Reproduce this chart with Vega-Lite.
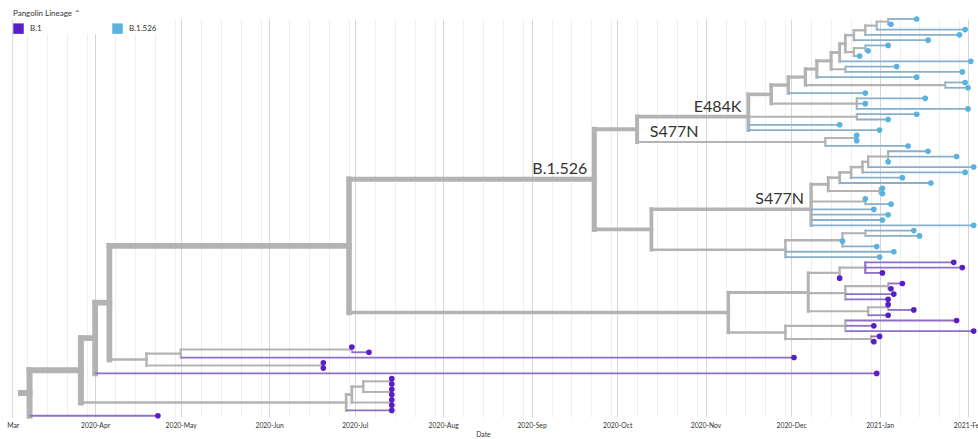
{
  "$schema": "https://vega.github.io/schema/vega-lite/v6.json",
  "width": 978,
  "height": 398,
  "autosize": {"type": "none"},
  "padding": {"left": 0, "right": 0, "top": 19, "bottom": 22},
  "background": "white",
  "config": {"view": {"stroke": null}, "font": "Lato"},
  "datasets": {
    "edges": [
      {"from":"2020-03-06","to":"2020-03-09","y":71.7,"tips":76},
      {"from":"2020-03-09","to":"2020-03-27","y":67.41,"tips":75},
      {"from":"2020-03-27","to":"2020-04-01","y":61.32,"tips":68},
      {"from":"2020-03-27","to":"2020-06-28","y":73.5,"tips":7},
      {"from":"2020-04-01","to":"2020-04-06","y":54.63,"tips":67},
      {"from":"2020-04-06","to":"2020-06-29","y":43.89,"tips":62},
      {"from":"2020-04-06","to":"2020-04-19","y":65.38,"tips":5},
      {"from":"2020-04-19","to":"2020-05-01","y":64.25,"tips":3},
      {"from":"2020-04-19","to":"2020-06-20","y":66.5,"tips":2},
      {"from":"2020-05-01","to":"2020-06-30","y":63.5,"tips":2},
      {"from":"2020-06-28","to":"2020-06-30","y":72,"tips":6},
      {"from":"2020-06-30","to":"2020-07-04","y":70.5,"tips":4},
      {"from":"2020-06-30","to":"2020-07-14","y":73.5,"tips":2},
      {"from":"2020-07-04","to":"2020-07-14","y":69.5,"tips":2},
      {"from":"2020-07-04","to":"2020-07-14","y":71.5,"tips":2},
      {"from":"2020-06-29","to":"2020-09-23","y":31.31,"tips":46},
      {"from":"2020-06-29","to":"2020-11-09","y":56.47,"tips":16},
      {"from":"2020-09-23","to":"2020-10-08","y":21.84,"tips":25},
      {"from":"2020-09-23","to":"2020-10-13","y":40.79,"tips":21},
      {"from":"2020-10-08","to":"2020-11-16","y":19.44,"tips":22},
      {"from":"2020-10-08","to":"2020-12-13","y":24.25,"tips":3},
      {"from":"2020-11-16","to":"2020-11-24","y":15.25,"tips":18},
      {"from":"2020-11-16","to":"2020-12-24","y":19.5,"tips":2},
      {"from":"2020-11-24","to":"2020-11-30","y":13.49,"tips":15},
      {"from":"2020-11-24","to":"2020-12-24","y":17,"tips":3},
      {"from":"2020-11-30","to":"2020-12-06","y":11.98,"tips":14},
      {"from":"2020-12-06","to":"2020-12-10","y":10.46,"tips":12},
      {"from":"2020-12-06","to":"2021-01-24","y":13.5,"tips":2},
      {"from":"2020-12-10","to":"2020-12-15","y":8.91,"tips":11},
      {"from":"2020-12-15","to":"2020-12-18","y":7.33,"tips":9},
      {"from":"2020-12-15","to":"2020-12-20","y":10.5,"tips":2},
      {"from":"2020-12-18","to":"2020-12-20","y":5.66,"tips":8},
      {"from":"2020-12-20","to":"2020-12-23","y":4.06,"tips":5},
      {"from":"2020-12-20","to":"2020-12-23","y":7.25,"tips":3},
      {"from":"2020-12-23","to":"2020-12-27","y":3.13,"tips":4},
      {"from":"2020-12-27","to":"2020-12-31","y":2.25,"tips":3},
      {"from":"2020-12-31","to":"2021-01-04","y":1.5,"tips":2},
      {"from":"2020-12-23","to":"2020-12-27","y":6.5,"tips":2},
      {"from":"2020-12-13","to":"2020-12-24","y":23.5,"tips":2},
      {"from":"2020-10-13","to":"2020-12-08","y":36.96,"tips":15},
      {"from":"2020-10-13","to":"2020-11-29","y":44.61,"tips":6},
      {"from":"2020-12-08","to":"2020-12-14","y":32.25,"tips":9},
      {"from":"2020-12-08","to":"2020-12-27","y":35.5,"tips":2},
      {"from":"2020-12-14","to":"2020-12-18","y":31,"tips":7},
      {"from":"2020-12-14","to":"2021-01-01","y":33.5,"tips":2},
      {"from":"2020-12-18","to":"2020-12-22","y":30,"tips":6},
      {"from":"2020-12-22","to":"2020-12-26","y":29,"tips":5},
      {"from":"2020-12-26","to":"2020-12-28","y":28,"tips":4},
      {"from":"2020-12-28","to":"2021-01-04","y":27,"tips":3},
      {"from":"2020-11-29","to":"2020-12-19","y":42.83,"tips":4},
      {"from":"2020-12-19","to":"2020-12-27","y":41.5,"tips":2},
      {"from":"2020-11-09","to":"2020-12-07","y":52.69,"tips":11},
      {"from":"2020-11-09","to":"2020-11-29","y":60.25,"tips":5},
      {"from":"2020-12-07","to":"2020-12-18","y":49,"tips":4},
      {"from":"2020-12-07","to":"2020-12-20","y":52.83,"tips":4},
      {"from":"2020-12-07","to":"2020-12-28","y":56.25,"tips":3},
      {"from":"2020-12-18","to":"2020-12-27","y":48,"tips":3},
      {"from":"2020-12-20","to":"2021-01-04","y":51.5,"tips":2},
      {"from":"2020-12-28","to":"2021-01-04","y":55.5,"tips":2},
      {"from":"2020-11-29","to":"2020-12-20","y":59,"tips":3},
      {"from":"2020-11-29","to":"2020-12-29","y":61.5,"tips":2}
    ],
    "joins": [
      {"date":"2020-03-09","y0":67.41,"y1":76,"tips":76,"lineage":"int"},
      {"date":"2020-03-27","y0":61.32,"y1":73.5,"tips":75,"lineage":"int"},
      {"date":"2020-04-01","y0":54.63,"y1":68,"tips":68,"lineage":"int"},
      {"date":"2020-04-06","y0":43.89,"y1":65.38,"tips":67,"lineage":"int"},
      {"date":"2020-04-19","y0":64.25,"y1":66.5,"tips":5,"lineage":"int"},
      {"date":"2020-05-01","y0":63.5,"y1":65,"tips":3,"lineage":"int"},
      {"date":"2020-06-30","y0":63,"y1":64,"tips":2,"lineage":"int"},
      {"date":"2020-06-20","y0":66,"y1":67,"tips":2,"lineage":"int"},
      {"date":"2020-06-29","y0":31.31,"y1":56.47,"tips":62,"lineage":"int"},
      {"date":"2020-06-28","y0":72,"y1":75,"tips":7,"lineage":"int"},
      {"date":"2020-06-30","y0":70.5,"y1":73.5,"tips":6,"lineage":"int"},
      {"date":"2020-07-04","y0":69.5,"y1":71.5,"tips":4,"lineage":"int"},
      {"date":"2020-07-14","y0":69,"y1":70,"tips":2,"lineage":"int"},
      {"date":"2020-07-14","y0":71,"y1":72,"tips":2,"lineage":"int"},
      {"date":"2020-07-14","y0":73,"y1":74,"tips":2,"lineage":"int"},
      {"date":"2020-09-23","y0":21.84,"y1":40.79,"tips":46,"lineage":"int"},
      {"date":"2020-10-08","y0":19.44,"y1":24.25,"tips":25,"lineage":"int"},
      {"date":"2020-10-13","y0":36.96,"y1":44.61,"tips":21,"lineage":"int"},
      {"date":"2020-11-16","y0":15.25,"y1":22,"tips":22,"lineage":"int"},
      {"date":"2020-11-24","y0":13.49,"y1":17,"tips":18,"lineage":"int"},
      {"date":"2020-11-30","y0":11.98,"y1":15,"tips":15,"lineage":"int"},
      {"date":"2020-12-06","y0":10.46,"y1":13.5,"tips":14,"lineage":"int"},
      {"date":"2021-01-24","y0":13,"y1":14,"tips":2,"lineage":"int"},
      {"date":"2020-12-10","y0":8.91,"y1":12,"tips":12,"lineage":"int"},
      {"date":"2020-12-15","y0":7.33,"y1":10.5,"tips":11,"lineage":"int"},
      {"date":"2020-12-20","y0":10,"y1":11,"tips":2,"lineage":"int"},
      {"date":"2020-12-18","y0":5.66,"y1":9,"tips":9,"lineage":"int"},
      {"date":"2020-12-20","y0":4.06,"y1":7.25,"tips":8,"lineage":"int"},
      {"date":"2020-12-23","y0":6.5,"y1":8,"tips":3,"lineage":"int"},
      {"date":"2020-12-27","y0":6,"y1":7,"tips":2,"lineage":"int"},
      {"date":"2020-12-23","y0":3.13,"y1":5,"tips":5,"lineage":"int"},
      {"date":"2020-12-27","y0":2.25,"y1":4,"tips":4,"lineage":"int"},
      {"date":"2020-12-31","y0":1.5,"y1":3,"tips":3,"lineage":"int"},
      {"date":"2021-01-04","y0":1,"y1":2,"tips":2,"lineage":"int"},
      {"date":"2020-12-24","y0":16,"y1":18,"tips":3,"lineage":"int"},
      {"date":"2020-12-24","y0":19,"y1":20,"tips":2,"lineage":"int"},
      {"date":"2020-12-13","y0":23.5,"y1":25,"tips":3,"lineage":"int"},
      {"date":"2020-12-24","y0":23,"y1":24,"tips":2,"lineage":"int"},
      {"date":"2020-12-08","y0":32.25,"y1":40,"tips":15,"lineage":"int"},
      {"date":"2020-12-14","y0":31,"y1":33.5,"tips":9,"lineage":"int"},
      {"date":"2020-12-18","y0":30,"y1":32,"tips":7,"lineage":"int"},
      {"date":"2020-12-22","y0":29,"y1":31,"tips":6,"lineage":"int"},
      {"date":"2020-12-26","y0":28,"y1":30,"tips":5,"lineage":"int"},
      {"date":"2020-12-28","y0":27,"y1":29,"tips":4,"lineage":"int"},
      {"date":"2021-01-04","y0":26,"y1":28,"tips":3,"lineage":"int"},
      {"date":"2021-01-01","y0":33,"y1":34,"tips":2,"lineage":"int"},
      {"date":"2020-12-27","y0":35,"y1":36,"tips":2,"lineage":"int"},
      {"date":"2020-11-29","y0":42.83,"y1":46,"tips":6,"lineage":"int"},
      {"date":"2020-12-19","y0":41.5,"y1":44,"tips":4,"lineage":"int"},
      {"date":"2020-12-27","y0":41,"y1":42,"tips":2,"lineage":"int"},
      {"date":"2020-11-09","y0":52.69,"y1":60.25,"tips":16,"lineage":"int"},
      {"date":"2020-12-07","y0":49,"y1":56.25,"tips":11,"lineage":"int"},
      {"date":"2020-12-18","y0":48,"y1":50,"tips":4,"lineage":"int"},
      {"date":"2020-12-27","y0":47,"y1":49,"tips":3,"lineage":"B.1"},
      {"date":"2020-12-20","y0":51.5,"y1":54,"tips":4,"lineage":"int"},
      {"date":"2021-01-04","y0":51,"y1":52,"tips":2,"lineage":"int"},
      {"date":"2020-12-28","y0":55.5,"y1":57,"tips":3,"lineage":"int"},
      {"date":"2021-01-04","y0":55,"y1":56,"tips":2,"lineage":"int"},
      {"date":"2020-11-29","y0":59,"y1":61.5,"tips":5,"lineage":"int"},
      {"date":"2020-12-20","y0":58,"y1":60,"tips":3,"lineage":"int"},
      {"date":"2020-12-29","y0":61,"y1":62,"tips":2,"lineage":"int"}
    ],
    "tips": [
      {"from":"2021-01-04","date":"2021-01-14","y":1,"lineage":"B.1.526"},
      {"from":"2021-01-04","date":"2021-01-05","y":2,"lineage":"B.1.526"},
      {"from":"2020-12-31","date":"2021-01-31","y":3,"lineage":"B.1.526"},
      {"from":"2020-12-27","date":"2021-01-29","y":4,"lineage":"B.1.526"},
      {"from":"2020-12-23","date":"2021-01-18","y":5,"lineage":"B.1.526"},
      {"from":"2020-12-27","date":"2021-01-04","y":6,"lineage":"B.1.526"},
      {"from":"2020-12-27","date":"2020-12-28","y":7,"lineage":"B.1.526"},
      {"from":"2020-12-23","date":"2020-12-25","y":8,"lineage":"B.1.526"},
      {"from":"2020-12-18","date":"2021-02-02","y":9,"lineage":"B.1.526"},
      {"from":"2020-12-20","date":"2021-01-07","y":10,"lineage":"B.1.526"},
      {"from":"2020-12-20","date":"2021-01-30","y":11,"lineage":"B.1.526"},
      {"from":"2020-12-10","date":"2021-01-14","y":12,"lineage":"B.1.526"},
      {"from":"2021-01-24","date":"2021-01-31","y":13,"lineage":"B.1.526"},
      {"from":"2021-01-24","date":"2021-02-01","y":14,"lineage":"B.1.526"},
      {"from":"2020-11-30","date":"2020-12-27","y":15,"lineage":"B.1.526"},
      {"from":"2020-12-24","date":"2021-01-17","y":16,"lineage":"B.1.526"},
      {"from":"2020-12-24","date":"2020-12-27","y":17,"lineage":"B.1.526"},
      {"from":"2020-12-24","date":"2021-02-01","y":18,"lineage":"B.1.526"},
      {"from":"2020-12-24","date":"2021-01-14","y":19,"lineage":"B.1.526"},
      {"from":"2020-12-24","date":"2021-01-04","y":20,"lineage":"B.1.526"},
      {"from":"2020-11-16","date":"2020-12-18","y":21,"lineage":"B.1.526"},
      {"from":"2020-11-16","date":"2021-01-01","y":22,"lineage":"B.1.526"},
      {"from":"2020-12-24","date":"2020-12-24","y":23,"lineage":"B.1.526"},
      {"from":"2020-12-24","date":"2020-12-24","y":24,"lineage":"B.1.526"},
      {"from":"2020-12-13","date":"2021-01-11","y":25,"lineage":"B.1.526"},
      {"from":"2021-01-04","date":"2021-01-18","y":26,"lineage":"B.1.526"},
      {"from":"2021-01-04","date":"2021-01-28","y":27,"lineage":"B.1.526"},
      {"from":"2021-01-04","date":"2021-01-04","y":28,"lineage":"B.1.526"},
      {"from":"2020-12-28","date":"2021-02-03","y":29,"lineage":"B.1.526"},
      {"from":"2020-12-26","date":"2021-01-31","y":30,"lineage":"B.1.526"},
      {"from":"2020-12-22","date":"2021-01-09","y":31,"lineage":"B.1.526"},
      {"from":"2020-12-18","date":"2021-01-19","y":32,"lineage":"B.1.526"},
      {"from":"2021-01-01","date":"2021-01-02","y":33,"lineage":"B.1.526"},
      {"from":"2021-01-01","date":"2021-01-02","y":34,"lineage":"B.1.526"},
      {"from":"2020-12-27","date":"2020-12-27","y":35,"lineage":"B.1.526"},
      {"from":"2020-12-27","date":"2021-01-05","y":36,"lineage":"B.1.526"},
      {"from":"2020-12-08","date":"2020-12-30","y":37,"lineage":"B.1.526"},
      {"from":"2020-12-08","date":"2021-01-04","y":38,"lineage":"B.1.526"},
      {"from":"2020-12-08","date":"2021-01-02","y":39,"lineage":"B.1.526"},
      {"from":"2020-12-08","date":"2021-02-03","y":40,"lineage":"B.1.526"},
      {"from":"2020-12-27","date":"2021-01-13","y":41,"lineage":"B.1.526"},
      {"from":"2020-12-27","date":"2021-01-15","y":42,"lineage":"B.1.526"},
      {"from":"2020-12-19","date":"2020-12-19","y":43,"lineage":"B.1.526"},
      {"from":"2020-12-19","date":"2020-12-31","y":44,"lineage":"B.1.526"},
      {"from":"2020-11-29","date":"2021-01-06","y":45,"lineage":"B.1.526"},
      {"from":"2020-11-29","date":"2021-01-01","y":46,"lineage":"B.1.526"},
      {"from":"2020-12-27","date":"2021-01-27","y":47,"lineage":"B.1"},
      {"from":"2020-12-27","date":"2021-01-30","y":48,"lineage":"B.1"},
      {"from":"2020-12-27","date":"2021-01-02","y":49,"lineage":"B.1"},
      {"from":"2020-12-18","date":"2020-12-18","y":50,"lineage":"B.1"},
      {"from":"2021-01-04","date":"2021-01-09","y":51,"lineage":"B.1"},
      {"from":"2021-01-04","date":"2021-01-05","y":52,"lineage":"B.1"},
      {"from":"2020-12-20","date":"2021-01-06","y":53,"lineage":"B.1"},
      {"from":"2020-12-20","date":"2021-01-04","y":54,"lineage":"B.1"},
      {"from":"2021-01-04","date":"2021-01-04","y":55,"lineage":"B.1"},
      {"from":"2021-01-04","date":"2021-01-13","y":56,"lineage":"B.1"},
      {"from":"2020-12-28","date":"2021-01-04","y":57,"lineage":"B.1"},
      {"from":"2020-12-20","date":"2021-01-28","y":58,"lineage":"B.1"},
      {"from":"2020-12-20","date":"2020-12-30","y":59,"lineage":"B.1"},
      {"from":"2020-12-20","date":"2021-02-03","y":60,"lineage":"B.1"},
      {"from":"2020-12-29","date":"2021-01-01","y":61,"lineage":"B.1"},
      {"from":"2020-12-29","date":"2020-12-30","y":62,"lineage":"B.1"},
      {"from":"2020-06-30","date":"2020-06-30","y":63,"lineage":"B.1"},
      {"from":"2020-06-30","date":"2020-07-06","y":64,"lineage":"B.1"},
      {"from":"2020-05-01","date":"2020-12-02","y":65,"lineage":"B.1"},
      {"from":"2020-06-20","date":"2020-06-20","y":66,"lineage":"B.1"},
      {"from":"2020-06-20","date":"2020-06-20","y":67,"lineage":"B.1"},
      {"from":"2020-04-01","date":"2020-12-31","y":68,"lineage":"B.1"},
      {"from":"2020-07-14","date":"2020-07-14","y":69,"lineage":"B.1"},
      {"from":"2020-07-14","date":"2020-07-14","y":70,"lineage":"B.1"},
      {"from":"2020-07-14","date":"2020-07-14","y":71,"lineage":"B.1"},
      {"from":"2020-07-14","date":"2020-07-14","y":72,"lineage":"B.1"},
      {"from":"2020-07-14","date":"2020-07-14","y":73,"lineage":"B.1"},
      {"from":"2020-07-14","date":"2020-07-14","y":74,"lineage":"B.1"},
      {"from":"2020-06-28","date":"2020-07-14","y":75,"lineage":"B.1"},
      {"from":"2020-03-09","date":"2020-04-23","y":76,"lineage":"B.1"}
    ],
    "labels": [
      {"label":"B.1.526","date":"2020-09-23","y":31.31},
      {"label":"E484K","date":"2020-11-16","y":19.44},
      {"label":"S477N","date":"2020-11-01","y":24.25},
      {"label":"S477N","date":"2020-12-08","y":36.96}
    ]
  },
  "layer": [
    {
      "data": {"name": "edges"},
      "mark": {"type": "rule", "color": "#B3B3B3", "strokeCap": "square"},
      "encoding": {
        "x": {"field": "from", "type": "temporal",
          "scale": {"type": "utc", "nice": false, "domain": [{"year":2020,"month":2,"date":27,"hours":15,"minutes":37,"utc":true},{"year":2021,"month":2,"date":4,"hours":12,"minutes":14,"utc":true}]},
          "axis": {"orient": "bottom", "grid": true, "gridColor": "#d6d6d6", "gridWidth": 1, "labels": false, "ticks": false, "domain": false, "title": null,
            "values": [
              {"year":2020,"month":4,"date":1,"utc":true},{"year":2020,"month":5,"date":1,"utc":true},{"year":2020,"month":6,"date":1,"utc":true},
              {"year":2020,"month":7,"date":1,"utc":true},{"year":2020,"month":8,"date":1,"utc":true},{"year":2020,"month":9,"date":1,"utc":true},
              {"year":2020,"month":10,"date":1,"utc":true},{"year":2020,"month":11,"date":1,"utc":true},{"year":2020,"month":12,"date":1,"utc":true},
              {"year":2021,"month":1,"date":1,"utc":true},{"year":2021,"month":2,"date":1,"utc":true}
            ]}},
        "x2": {"field": "to"},
        "y": {"field": "y", "type": "quantitative",
          "scale": {"domain": [1, 76.24], "reverse": true, "zero": false, "nice": false},
          "axis": {"orient": "left", "offset": -12, "domain": true, "domainColor": "#dadada", "domainWidth": 1, "ticks": false, "labels": false, "grid": false, "title": null}},
        "strokeWidth": {"field": "tips", "type": "quantitative", "scale": {"type": "sqrt", "domain": [1, 76], "range": [1.8, 6], "zero": false}, "legend": null}
      }
    },
    {
      "data": {"name": "joins"},
      "mark": {"type": "rule", "strokeCap": "square"},
      "encoding": {
        "x": {"field": "date", "type": "temporal",
          "scale": {"type": "utc", "nice": false, "domain": [{"year":2020,"month":2,"date":27,"hours":15,"minutes":37,"utc":true},{"year":2021,"month":2,"date":4,"hours":12,"minutes":14,"utc":true}]},
          "axis": {"orient": "bottom", "grid": true, "gridColor": "#efefef", "gridWidth": 1, "labels": false, "ticks": false, "domain": false, "title": null,
            "values": [
              {"year":2020,"month":3,"date":8,"utc":true},{"year":2020,"month":3,"date":15,"utc":true},{"year":2020,"month":3,"date":22,"utc":true},{"year":2020,"month":3,"date":29,"utc":true},
              {"year":2020,"month":4,"date":8,"utc":true},{"year":2020,"month":4,"date":15,"utc":true},{"year":2020,"month":4,"date":22,"utc":true},{"year":2020,"month":4,"date":29,"utc":true},
              {"year":2020,"month":5,"date":8,"utc":true},{"year":2020,"month":5,"date":15,"utc":true},{"year":2020,"month":5,"date":22,"utc":true},{"year":2020,"month":5,"date":29,"utc":true},
              {"year":2020,"month":6,"date":8,"utc":true},{"year":2020,"month":6,"date":15,"utc":true},{"year":2020,"month":6,"date":22,"utc":true},{"year":2020,"month":6,"date":29,"utc":true},
              {"year":2020,"month":7,"date":8,"utc":true},{"year":2020,"month":7,"date":15,"utc":true},{"year":2020,"month":7,"date":22,"utc":true},{"year":2020,"month":7,"date":29,"utc":true},
              {"year":2020,"month":8,"date":8,"utc":true},{"year":2020,"month":8,"date":15,"utc":true},{"year":2020,"month":8,"date":22,"utc":true},{"year":2020,"month":8,"date":29,"utc":true},
              {"year":2020,"month":9,"date":8,"utc":true},{"year":2020,"month":9,"date":15,"utc":true},{"year":2020,"month":9,"date":22,"utc":true},{"year":2020,"month":9,"date":29,"utc":true},
              {"year":2020,"month":10,"date":8,"utc":true},{"year":2020,"month":10,"date":15,"utc":true},{"year":2020,"month":10,"date":22,"utc":true},{"year":2020,"month":10,"date":29,"utc":true},
              {"year":2020,"month":11,"date":8,"utc":true},{"year":2020,"month":11,"date":15,"utc":true},{"year":2020,"month":11,"date":22,"utc":true},{"year":2020,"month":11,"date":29,"utc":true},
              {"year":2020,"month":12,"date":8,"utc":true},{"year":2020,"month":12,"date":15,"utc":true},{"year":2020,"month":12,"date":22,"utc":true},{"year":2020,"month":12,"date":29,"utc":true},
              {"year":2021,"month":1,"date":8,"utc":true},{"year":2021,"month":1,"date":15,"utc":true},{"year":2021,"month":1,"date":22,"utc":true},{"year":2021,"month":1,"date":29,"utc":true}
            ]}},
        "y": {"field": "y0", "type": "quantitative", "scale": {"domain": [1, 76.24], "reverse": true, "zero": false, "nice": false}, "axis": null},
        "y2": {"field": "y1"},
        "stroke": {"field": "lineage", "type": "nominal", "scale": {"domain": ["B.1", "B.1.526", "int"], "range": ["#8E70C4", "#89AFCB", "#B3B3B3"]}, "legend": null},
        "strokeWidth": {"field": "tips", "type": "quantitative", "scale": {"type": "sqrt", "domain": [1, 76], "range": [1.8, 6], "zero": false}, "legend": null}
      }
    },
    {
      "data": {"name": "tips"},
      "mark": {"type": "rule", "strokeWidth": 1.8, "strokeCap": "butt"},
      "encoding": {
        "x": {"field": "from", "type": "temporal",
          "scale": {"type": "utc", "nice": false, "domain": [{"year":2020,"month":2,"date":27,"hours":15,"minutes":37,"utc":true},{"year":2021,"month":2,"date":4,"hours":12,"minutes":14,"utc":true}]},
          "axis": {"orient": "bottom", "grid": false, "ticks": false, "domain": false,
            "labelExpr": "datum.value < utc(2020, 3, 1) ? 'Mar' : utcFormat(datum.value, '%Y-%b')",
            "labelAlign": {"condition": {"test": "datum.value < utc(2020, 3, 1)", "value": "left"}, "value": "center"},
            "labelFont": "Lato", "labelFontSize": 6.8, "labelColor": "#333", "labelPadding": 5, "labelFlush": false, "labelBound": false, "labelOverlap": false,
            "title": "Date", "titleFont": "Lato", "titleFontSize": 6.8, "titleFontWeight": "normal", "titleColor": "#333", "titlePadding": 3, "titleX": 483,
            "values": [
              {"year":2020,"month":3,"date":1,"utc":true},{"year":2020,"month":4,"date":1,"utc":true},{"year":2020,"month":5,"date":1,"utc":true},{"year":2020,"month":6,"date":1,"utc":true},
              {"year":2020,"month":7,"date":1,"utc":true},{"year":2020,"month":8,"date":1,"utc":true},{"year":2020,"month":9,"date":1,"utc":true},
              {"year":2020,"month":10,"date":1,"utc":true},{"year":2020,"month":11,"date":1,"utc":true},{"year":2020,"month":12,"date":1,"utc":true},
              {"year":2021,"month":1,"date":1,"utc":true},{"year":2021,"month":2,"date":1,"utc":true}
            ]}},
        "x2": {"field": "date"},
        "y": {"field": "y", "type": "quantitative", "scale": {"domain": [1, 76.24], "reverse": true, "zero": false, "nice": false}, "axis": null},
        "stroke": {"field": "lineage", "type": "nominal", "scale": {"domain": ["B.1", "B.1.526", "int"], "range": ["#8E70C4", "#89AFCB", "#B3B3B3"]}, "legend": null}
      }
    },
    {
      "data": {"name": "tips"},
      "mark": {"type": "point", "filled": true, "size": 32, "opacity": 1, "strokeWidth": 0},
      "encoding": {
        "x": {"field": "date", "type": "temporal",
          "scale": {"type": "utc", "nice": false, "domain": [{"year":2020,"month":2,"date":27,"hours":15,"minutes":37,"utc":true},{"year":2021,"month":2,"date":4,"hours":12,"minutes":14,"utc":true}]},
          "axis": null},
        "y": {"field": "y", "type": "quantitative", "scale": {"domain": [1, 76.24], "reverse": true, "zero": false, "nice": false}, "axis": null},
        "fill": {"field": "lineage", "type": "nominal",
          "scale": {"domain": ["B.1", "B.1.526"], "range": ["#5A1EC8", "#5AB2DF"]},
          "legend": {"title": "Pangolin Lineage ⌃", "orient": "none", "legendX": 13, "legendY": -9, "direction": "horizontal", "columns": 2,
            "symbolType": "square", "symbolSize": 110, "symbolOpacity": 1, "symbolStrokeWidth": 0,
            "labelFont": "Lato", "labelFontSize": 8, "labelColor": "#333", "labelOffset": 6,
            "titleFont": "Lato", "titleFontSize": 8, "titleFontWeight": "normal", "titleColor": "#333", "titlePadding": 5,
            "columnPadding": 70, "fillColor": "white", "padding": 0, "offset": 0}}
      }
    },
    {
      "data": {"name": "labels"},
      "mark": {"type": "text", "align": "right", "baseline": "alphabetic", "dx": -7, "dy": -5, "fontSize": 16, "font": "Lato", "color": "#333"},
      "encoding": {
        "x": {"field": "date", "type": "temporal",
          "scale": {"type": "utc", "nice": false, "domain": [{"year":2020,"month":2,"date":27,"hours":15,"minutes":37,"utc":true},{"year":2021,"month":2,"date":4,"hours":12,"minutes":14,"utc":true}]},
          "axis": null},
        "y": {"field": "y", "type": "quantitative", "scale": {"domain": [1, 76.24], "reverse": true, "zero": false, "nice": false}, "axis": null},
        "text": {"field": "label"}
      }
    }
  ],
  "resolve": {"axis": {"x": "independent", "y": "independent"}}
}
